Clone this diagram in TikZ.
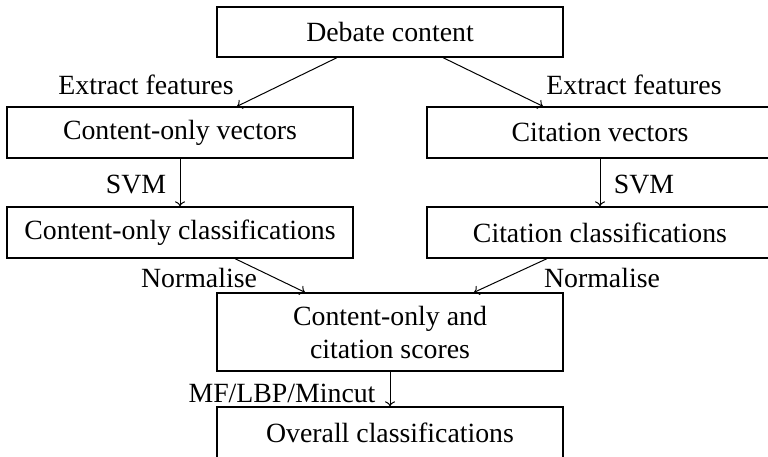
\documentclass[tikz,border=0pt]{standalone}
\usepackage{fontspec}
\setmainfont{Liberation Serif}
\usetikzlibrary{calc,arrows.meta}
\tikzset{
  box/.style={draw, line width=1.3pt, minimum width=346pt, minimum height=51pt, inner sep=0pt, align=center},
  conn/.style={-{To[length=5pt,width=10pt]}, line width=1pt},
  lbl/.style={inner sep=0pt, anchor=center}
}
\begin{document}
\begin{tikzpicture}[x=1pt, y=-1pt, font=\fontsize{27.8}{33}\selectfont]
\useasboundingbox (0,0) rectangle (768,457);
\node[box, minimum height=50pt] (top) at (390,32) {Debate content};
\node[box] (lv) at (180,132.5) {Content-only vectors};
\node[box] (rv) at (600,132.5) {Citation vectors};
\node[box] (lc) at (180,232.5) {Content-only classifications};
\node[box] (rc) at (600,232.5) {Citation classifications};
\node[box, minimum height=78pt] (mid) at (390,332) {Content-only and\\citation scores};
\node[box] (bot) at (390,432.5) {Overall classifications};

\draw[conn] ($(top.south)+(-53,0)$) -- ($(lv.north)+(57,0)$);
\draw[conn] ($(top.south)+(53,0)$) -- ($(rv.north)+(-57,0)$);
\draw[conn] (lv) -- (lc);
\draw[conn] (rv) -- (rc);
\draw[conn] ($(lc.south)+(55,0)$) -- ($(mid.north)+(-85,0)$);
\draw[conn] ($(rc.south)+(-53,0)$) -- ($(mid.north)+(84,0)$);
\draw[conn] (mid) -- (bot);

\node[lbl] (l1) at (146,85) {Extract features};
\node[lbl] (l2) at (634,85) {Extract features};
\node[lbl] (l3) at (136,185) {SVM};
\node[lbl] (l4) at (644,185) {SVM};
\node[lbl] (l5) at (199,278) {Normalise};
\node[lbl] (l6) at (602,278) {Normalise};
\node[lbl] (l7) at (282,393) {MF/LBP/Mincut};
\end{tikzpicture}
\end{document}
